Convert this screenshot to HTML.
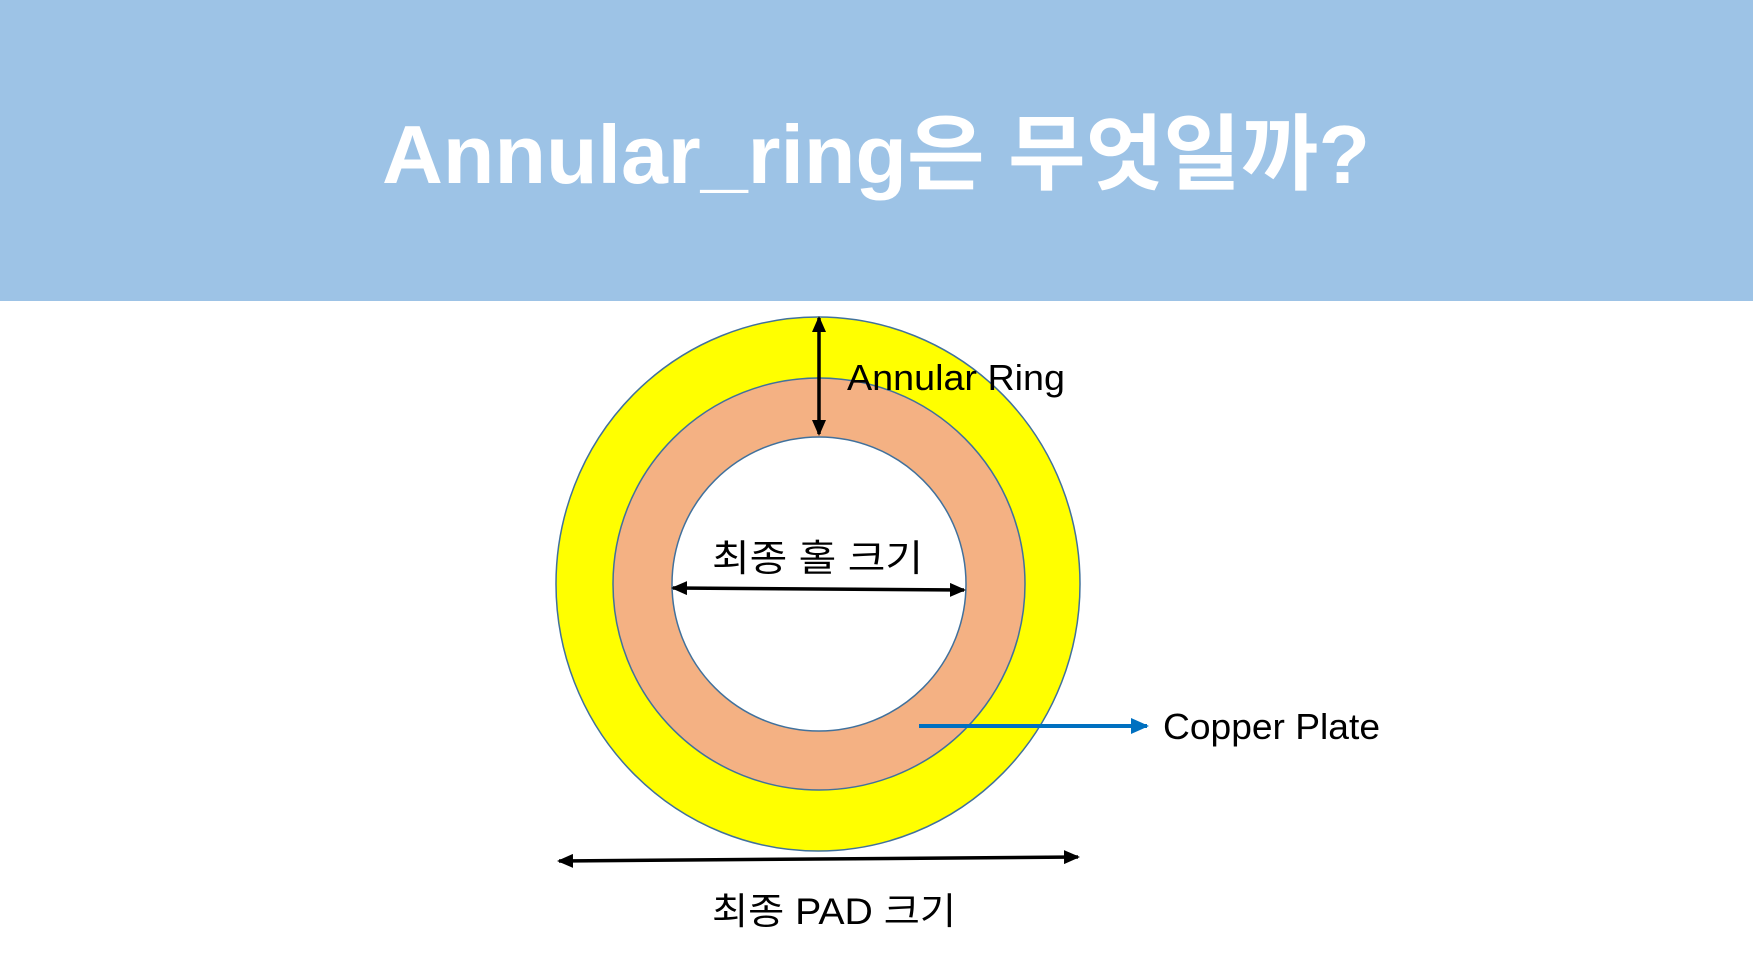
<!DOCTYPE html>
<html><head><meta charset="utf-8"><style>
html,body{margin:0;padding:0;width:1753px;height:956px;overflow:hidden;background:#fff}
svg{display:block}
text{font-family:"Liberation Sans","Noto Sans CJK KR",sans-serif}
</style></head><body>
<svg width="1753" height="956" viewBox="0 0 1753 956">
<defs>
<marker id="ab2" markerWidth="16" markerHeight="14" refX="14" refY="7" orient="auto-start-reverse" markerUnits="userSpaceOnUse"><path d="M0,0 L16,7 L0,14 z" fill="#000"/></marker>
<marker id="bl" markerWidth="18" markerHeight="16" refX="16" refY="8" orient="auto" markerUnits="userSpaceOnUse"><path d="M0,0 L18,8 L0,16 z" fill="#0070c0"/></marker>
</defs>
<rect x="0" y="0" width="1753" height="301" fill="#9dc3e6"/>
<text x="876" y="183" font-size="83" font-weight="bold" fill="#fff" text-anchor="middle" textLength="988" lengthAdjust="spacingAndGlyphs">Annular_ring은 무엇일까?</text>
<ellipse cx="818" cy="584" rx="262" ry="267" fill="#ffff00" stroke="#41719c" stroke-width="1.5"/>
<circle cx="819" cy="584" r="206" fill="#f4b183" stroke="#41719c" stroke-width="1.5"/>
<circle cx="819" cy="584" r="147" fill="#fff" stroke="#41719c" stroke-width="1.5"/>
<line x1="819" y1="318" x2="819" y2="434" stroke="#000" stroke-width="3.5" marker-start="url(#ab2)" marker-end="url(#ab2)"/>
<line x1="673" y1="588" x2="964" y2="590" stroke="#000" stroke-width="3.5" marker-start="url(#ab2)" marker-end="url(#ab2)"/>
<line x1="559" y1="861" x2="1078" y2="857" stroke="#000" stroke-width="3.5" marker-start="url(#ab2)" marker-end="url(#ab2)"/>
<line x1="919" y1="726" x2="1147" y2="726" stroke="#0070c0" stroke-width="4" marker-end="url(#bl)"/>
<text x="847" y="390" font-size="36" fill="#000" textLength="218" lengthAdjust="spacingAndGlyphs">Annular Ring</text>
<text x="1163" y="739" font-size="36" fill="#000" textLength="217" lengthAdjust="spacingAndGlyphs">Copper Plate</text>
<text x="712" y="571" font-size="37" fill="#000" textLength="211" lengthAdjust="spacingAndGlyphs">최종 홀 크기</text>
<text x="712" y="924" font-size="37" fill="#000" textLength="244" lengthAdjust="spacingAndGlyphs">최종 PAD 크기</text>
</svg>
</body></html>
